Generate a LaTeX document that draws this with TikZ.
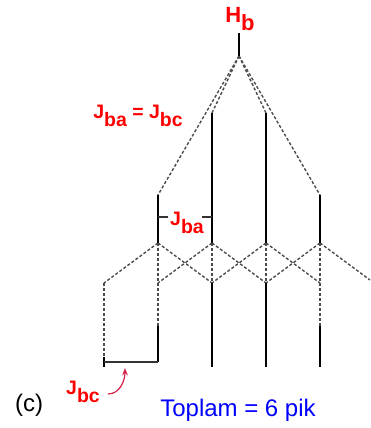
\documentclass[tikz,border=0pt]{standalone}
\usepackage{fontspec}
\setmainfont{Liberation Sans}
\usetikzlibrary{arrows.meta}
\newcommand{\lowsub}[1]{\raisebox{-0.38em}{#1}}

\begin{document}
\begin{tikzpicture}[
  x=1pt, y=-1pt,
  peak/.style={line width=1.9pt, black},
  split/.style={line width=1.4pt, black!70, dash pattern=on 3pt off 2pt},
  lbl/.style={text=red, font=\fontsize{19.5}{20}\selectfont\bfseries, inner sep=0pt},
  note/.style={font=\fontsize{24}{26}\selectfont, inner sep=0pt},
  arrow/.style={-{Stealth[length=2.6mm, width=2mm]}, line width=1.2pt, draw={rgb,255:red,215;green,35;blue,75}}
]
  \useasboundingbox (0,0) rectangle (370,428);

  % top of the tree
  \coordinate (top) at (239,33);
  \coordinate (apex) at (239,56);
  \coordinate (a1) at (158,195);
  \coordinate (a2) at (212,113);
  \coordinate (a3) at (266,113);
  \coordinate (a4) at (320,195);

  % second splitting
  \coordinate (b1) at (158,243);
  \coordinate (b2) at (212,243);
  \coordinate (b3) at (266,243);
  \coordinate (b4) at (320,243);
  \coordinate (c0) at (104,283);
  \coordinate (c1) at (158,283);
  \coordinate (c2) at (212,283);
  \coordinate (c3) at (266,283);
  \coordinate (c4) at (320,283);
  \coordinate (c5) at (370,280);

  % bottom lines
  \coordinate (d0) at (104,357);
  \coordinate (d1) at (158,326);
  \coordinate (d4) at (320,326);
  \coordinate (e0) at (104,362);
  \coordinate (e1) at (158,362);
  \coordinate (e2) at (212,367);
  \coordinate (e3) at (266,367);
  \coordinate (e4) at (320,367);
  \coordinate (t0) at (104,367);

  \draw[split] (apex) -- (a1);
  \draw[split] (apex) -- (a2);
  \draw[split] (apex) -- (a3);
  \draw[split] (apex) -- (a4);

  \draw[split] (b1) -- (c0);
  \draw[split] (b1) -- (c2);
  \draw[split] (b2) -- (c1);
  \draw[split] (b2) -- (c3);
  \draw[split] (b3) -- (c2);
  \draw[split] (b3) -- (c4);
  \draw[split] (b4) -- (c3);
  \draw[split] (b4) -- (c5);
  \draw[split] (b1) -- (d1);
  \draw[split] (b2) -- (c2);
  \draw[split] (b3) -- (c3);
  \draw[split] (b4) -- (d4);
  \draw[split] (c0) -- (d0);

  \draw[peak] (top) -- (apex);
  \draw[peak] (a1) -- (b1);
  \draw[peak] (a2) -- (b2);
  \draw[peak] (a3) -- (b3);
  \draw[peak] (a4) -- (b4);
  \draw[peak] (d1) -- (e1);
  \draw[peak] (c2) -- (e2);
  \draw[peak] (c3) -- (e3);
  \draw[peak] (d4) -- (e4);
  \draw[peak] (d0) -- (t0);
  \draw[line width=1.5pt, black!80] (e0) -- (e1);

  % labels
  \node[lbl, font=\fontsize{22}{24}\selectfont\bfseries] (hb) at (240,19) {H\lowsub{b}};
  \node[lbl] (jeq) at (138,116) {J\lowsub{ba} = J\lowsub{bc}};
  \node[lbl] (jba) at (187,223) {J\lowsub{ba}};
  \coordinate (k1) at (158,217);
  \coordinate (k2) at (212,217);
  \draw[line width=1.5pt, black!80] (k1) -- ([xshift=-2pt]k1 -| jba.west);
  \draw[line width=1.5pt, black!80] (k2) -- ([xshift=-2pt]k2 -| jba.east);
  \node[lbl] (jbc) at (83,392) {J\lowsub{bc}};
  \coordinate (tip) at (125,368);
  \draw[arrow] (108,394) to[out=0, in=-90] (tip);
  \node[note] (tag) at (29,405) {(c)};
  \node[note, text=blue] (sum) at (238,410) {Toplam = 6 pik};
\end{tikzpicture}
\end{document}
